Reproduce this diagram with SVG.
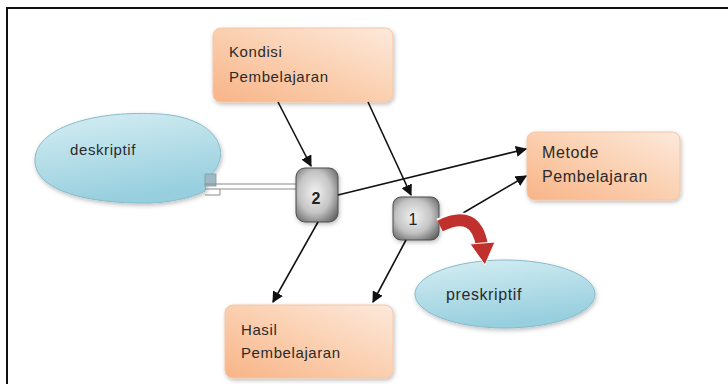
<svg xmlns="http://www.w3.org/2000/svg" width="728" height="384" viewBox="0 0 728 384">
<defs>
  <linearGradient id="gOrange" x1="0" y1="1" x2="1" y2="0">
    <stop offset="0" stop-color="#f8b487"/>
    <stop offset="0.55" stop-color="#fbd2b4"/>
    <stop offset="1" stop-color="#fde9dc"/>
  </linearGradient>
  <linearGradient id="gCyan" x1="0" y1="0" x2="0.3" y2="1">
    <stop offset="0" stop-color="#d6eef3"/>
    <stop offset="1" stop-color="#97cfde"/>
  </linearGradient>
  <radialGradient id="gGray" cx="0.45" cy="0.45" r="0.7">
    <stop offset="0" stop-color="#f2f2f2"/>
    <stop offset="0.55" stop-color="#c4c4c4"/>
    <stop offset="1" stop-color="#5e5e5e"/>
  </radialGradient>
  <filter id="shadow" x="-10%" y="-10%" width="125%" height="130%">
    <feDropShadow dx="1" dy="2" stdDeviation="2" flood-color="#000" flood-opacity="0.25"/>
  </filter>
  <marker id="arrow" viewBox="0 0 10 10" refX="9" refY="5" markerWidth="7" markerHeight="7" orient="auto">
    <path d="M0,0 L10,5 L0,10 z" fill="#111"/>
  </marker>
  <style>
    .box { fill: url(#gOrange); stroke: #f3c6a6; stroke-width: 1; filter: url(#shadow); }
    .bubble { fill: url(#gCyan); stroke: #86bccb; stroke-width: 1; filter: url(#shadow); }
    .gbox { fill: url(#gGray); stroke: #4d4d4d; stroke-width: 1; filter: url(#shadow); }
    .lbl { font-family: "Liberation Sans", Arial, sans-serif; font-size: 15px; fill: #2a2a2a; letter-spacing: 0.6px; }
    .num { font-family: "Liberation Sans", Arial, sans-serif; font-size: 16px; font-weight: bold; fill: #222; text-anchor: middle; }
    .conn { stroke: #111; stroke-width: 1.6; fill: none; marker-end: url(#arrow); }
  </style>
</defs>
<rect x="0" y="0" width="728" height="384" fill="#ffffff"/>
<rect x="7" y="8" width="740" height="400" fill="none" stroke="#111" stroke-width="2"/>

<g id="deskriptif">
  <path class="bubble" d="M207,178 C234,158 222,118 160,114 C98,110 38,126 35,158 C32,192 92,204 150,203 C176,202 195,196 205,191 Z"/>
  <rect x="205" y="174" width="11" height="12" fill="#9fb9c4" stroke="#7f9aa6" stroke-width="0.8"/>
  <path d="M205,184 L296,184 M205,189 L220,189 L220,195 L205,195 M220,189 L296,189" fill="none" stroke="#8a8a8a" stroke-width="1"/>
  <text class="lbl" x="70" y="155">deskriptif</text>
</g>

<g id="kondisi">
  <rect class="box" x="213" y="28" width="180" height="74" rx="8"/>
  <text class="lbl" x="229" y="57">Kondisi</text>
  <text class="lbl" x="229" y="82">Pembelajaran</text>
</g>

<g id="metode">
  <rect class="box" x="527" y="132" width="153" height="68" rx="8"/>
  <text class="lbl" x="542" y="158" style="font-size:16px">Metode</text>
  <text class="lbl" x="542" y="182" style="font-size:16px">Pembelajaran</text>
</g>

<g id="hasil">
  <rect class="box" x="225" y="305" width="168" height="73" rx="8"/>
  <text class="lbl" x="241" y="335">Hasil</text>
  <text class="lbl" x="241" y="358">Pembelajaran</text>
</g>

<g id="preskriptif">
  <ellipse class="bubble" cx="505" cy="294" rx="90" ry="34"/>
  <text class="lbl" x="446" y="300" style="font-size:16px">preskriptif</text>
</g>

<g id="box2">
  <rect class="gbox" x="296" y="168" width="42" height="54" rx="9"/>
  <text class="num" x="316" y="204">2</text>
</g>

<g id="box1">
  <rect class="gbox" x="393" y="197" width="46" height="43" rx="8"/>
  <text class="num" x="413" y="225" style="font-weight:normal">1</text>
</g>

<g id="connectors">
  <line class="conn" x1="278" y1="102" x2="311" y2="166"/>
  <line class="conn" x1="368" y1="102" x2="411" y2="195"/>
  <line class="conn" x1="338" y1="195" x2="526" y2="149"/>
  <line class="conn" x1="463" y1="213" x2="526" y2="176"/>
  <line class="conn" x1="318" y1="222" x2="273" y2="302"/>
  <line class="conn" x1="406" y1="240" x2="373" y2="302"/>
  <g id="red-arrow">
    <path d="M440,226 Q476,208 482,246" fill="none" stroke="#ffffff" stroke-width="16"/>
    <path d="M440,226 Q476,208 482,246" fill="none" stroke="#c0302c" stroke-width="12"/>
    <path d="M470,244 L495,242 L485,265 Z" fill="#c0302c" stroke="#fff" stroke-width="1"/>
  </g>
</g>
</svg>
